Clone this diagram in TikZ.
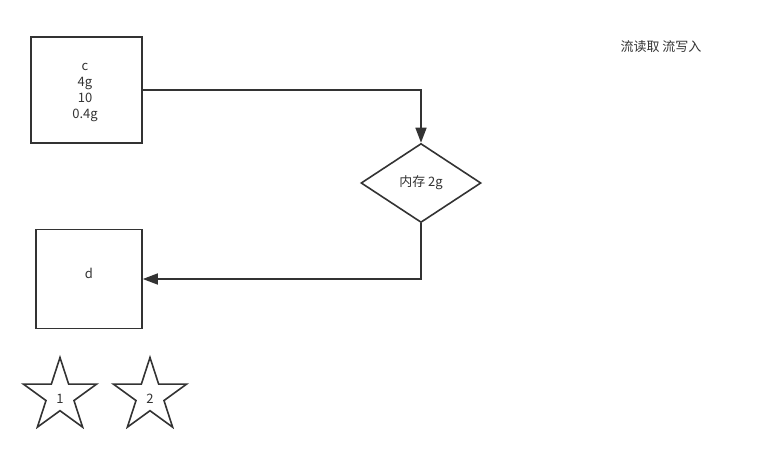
\documentclass[tikz,border=0pt]{standalone}
\usepackage{fontspec}
\setmainfont{Noto Sans CJK SC}
\usepackage{xcolor}
\usetikzlibrary{arrows.meta,positioning,shapes.geometric}
\definecolor{ink}{HTML}{333333}

\begin{document}
\begin{tikzpicture}[
    x=1pt,y=1pt,
    every node/.style={text=ink,font=\fontsize{13}{16}\selectfont},
    box/.style={draw=ink,line width=1.6pt,rectangle,align=center,inner sep=0pt},
    dec/.style={draw=ink,line width=1.6pt,diamond,aspect=1.52,inner sep=0pt,
                minimum width=120pt,minimum height=79pt},
    mark5/.style={draw=ink,line width=1.6pt,star,star points=5,
                  star point ratio=2.618,minimum size=77pt,inner sep=0pt},
    link/.style={draw=ink,line width=1.6pt,-{Triangle[length=15pt,width=11pt,fill=ink]}}]
    \useasboundingbox (0,0) rectangle (766,-455);
    \node[box,minimum width=111pt,minimum height=106pt] (c) at (86.5,-90) {};
    \node (ctext) at (85,-93) [align=center] {c\\4g\\10\\0.4g};
    \node[box,minimum width=106pt,minimum height=99pt] (d) at (89,-279) {};
    \node (dtext) at (89,-273) {d};
    \node[dec] (mem) at (421,-183) {内存 2g};
    \node[mark5] (s1) at (60,-396) {};
    \node at (60,-399) {1};
    \node[mark5] (s2) at (150,-396) {};
    \node at (150,-399) {2};
    \node (io) at (661,-47) {流读取 流写入};
    \coordinate (turn) at (mem.south |- d.east);
    \draw[link] (c.east) -| (mem.north);
    \draw[link] (mem.south) -- (turn) -- (d.east);
  \end{tikzpicture}
\end{document}
